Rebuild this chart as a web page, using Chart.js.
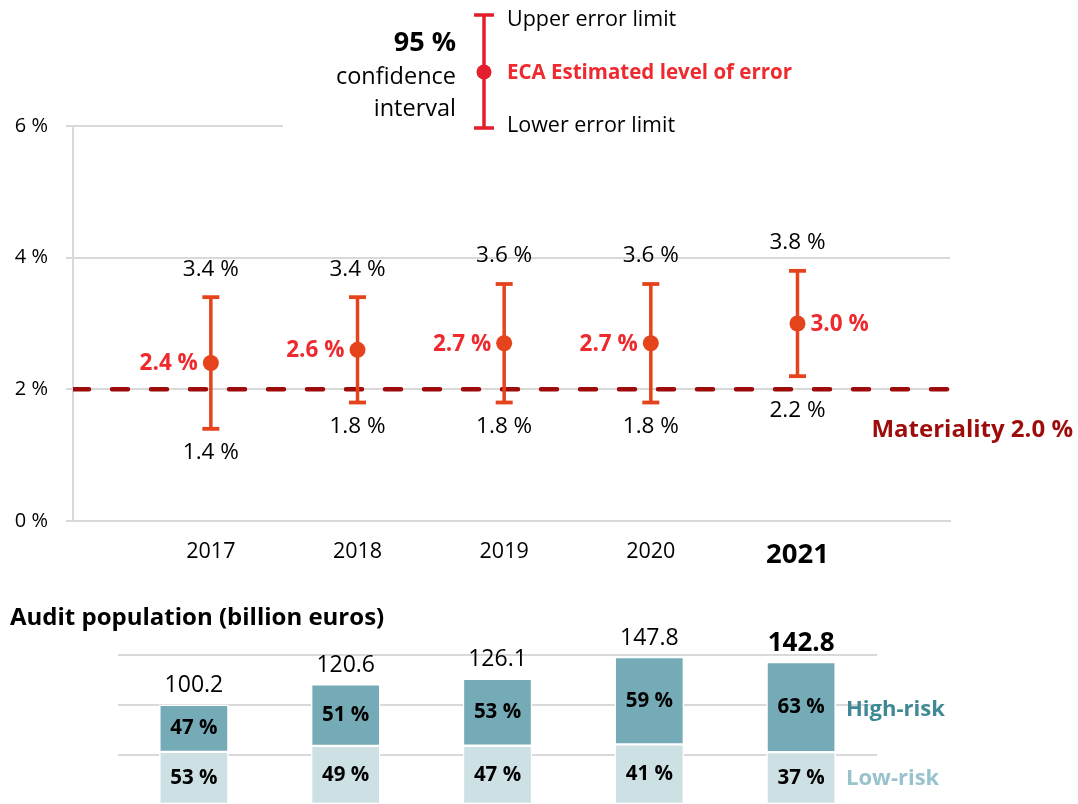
<!DOCTYPE html>
<html>
<head>
<meta charset="utf-8">
<script src="https://cdn.jsdelivr.net/npm/chart.js@4/dist/chart.umd.min.js"></script>
<style>
  html, body { margin: 0; padding: 0; background: #fff; width: 1078px; height: 804px; overflow: hidden; }
  #errorChart { position: absolute; left: 0; top: 0; }
  #popChart { position: absolute; left: 0; top: 590px; }
</style>
</head>
<body>
<canvas id="errorChart" width="1078" height="590"></canvas>
<canvas id="popChart" width="1078" height="220"></canvas>
<script>
// values
const years = [2017, 2018, 2019, 2020, 2021];
const estimated = [2.4, 2.6, 2.7, 2.7, 3.0];
const upperLimit = [3.4, 3.4, 3.6, 3.6, 3.8];
const lowerLimit = [1.4, 1.8, 1.8, 1.8, 2.2];
const materiality = 2.0;
const errorTicks = [0, 2, 4, 6];

const populationTotal = [100.2, 120.6, 126.1, 147.8, 142.8];
const highRiskShare = [47, 51, 53, 59, 63];
const lowRiskShare = [53, 49, 47, 41, 37];
const populationTicks = [0, 50, 100, 150];

const FONT = "'Open Sans', Lato, sans-serif";
const ORANGE = "#e5431c";
const RED = "#ee2a2f";
const DARKRED = "#9e0b0b";
const GRID = "#d9d9d9";

const xMin = 2016.06, xMax = 2022.04;

// whiskers: pairs of points split by a null so the line breaks between years
const whiskers = years.flatMap((yr, i) => [
  { x: yr, y: lowerLimit[i] },
  { x: yr, y: upperLimit[i] },
  { x: yr, y: null }
]);

const errorLabels = {
  id: "errorLabels",
  beforeDatasetsDraw(chart) {
    // the legend box hides the right part of the 6 % gridline
    const c = chart.ctx;
    c.save();
    c.fillStyle = "#fff";
    c.fillRect(283, chart.scales.y.getPixelForValue(6) - 4, 680, 8);
    c.restore();
  },
  afterDraw(chart) {
    const c = chart.ctx;
    const xs = chart.scales.x, ys = chart.scales.y;
    const matY = ys.getPixelForValue(materiality);
    c.save();
    c.textBaseline = "middle";
    years.forEach((yr, i) => {
      const x = xs.getPixelForValue(yr);
      c.fillStyle = "#000";
      c.textAlign = "center";
      c.font = "22.5px " + FONT;
      c.fillText(upperLimit[i].toFixed(1) + " %", x, ys.getPixelForValue(upperLimit[i]) - 28);
      // keep the lower label clear of the materiality line
      const ly = Math.max(ys.getPixelForValue(lowerLimit[i]) + 24, matY + 21);
      c.fillText(lowerLimit[i].toFixed(1) + " %", x, ly);
      c.fillStyle = RED;
      c.font = "bold 22.5px " + FONT;
      const last = i === years.length - 1;
      c.textAlign = last ? "left" : "right";
      c.fillText(estimated[i].toFixed(1) + " %", x + (last ? 13 : -13), ys.getPixelForValue(estimated[i]) + 1);
    });

    // materiality label
    c.fillStyle = DARKRED;
    c.font = "bold 24px " + FONT;
    c.textAlign = "right";
    c.fillText("Materiality " + materiality.toFixed(1) + " %", 1073, matY + 41);

    // legend
    const lx = 484;
    c.strokeStyle = "#e31e2d";
    c.lineWidth = 3.5;
    c.beginPath();
    c.moveTo(lx, 15); c.lineTo(lx, 128);
    c.moveTo(lx - 10, 15); c.lineTo(lx + 10, 15);
    c.moveTo(lx - 10, 128); c.lineTo(lx + 10, 128);
    c.stroke();
    c.fillStyle = "#e31e2d";
    c.beginPath();
    c.arc(lx, 72, 7.5, 0, Math.PI * 2);
    c.fill();

    c.fillStyle = "#000";
    c.textAlign = "right";
    c.font = "bold 27px " + FONT;
    c.fillText("95 %", 456, 43);
    c.font = "23.5px " + FONT;
    c.fillText("confidence", 456, 77);
    c.fillText("interval", 456, 109);

    c.textAlign = "left";
    c.font = "21.5px " + FONT;
    c.fillText("Upper error limit", 507, 20);
    c.fillText("Lower error limit", 507, 126);
    c.fillStyle = RED;
    c.font = "bold 20.5px " + FONT;
    c.fillText("ECA Estimated level of error", 507, 73);
    c.restore();
  }
};

new Chart(document.getElementById("errorChart").getContext("2d"), {
  type: "scatter",
  data: {
    datasets: [
      {
        label: "Materiality",
        type: "line",
        data: [{ x: xMin, y: materiality }, { x: xMax, y: materiality }],
        borderColor: DARKRED,
        borderWidth: 4.5,
        borderDash: [16, 23],
        borderCapStyle: "round",
        pointRadius: 0,
        order: 3
      },
      {
        label: "Error interval",
        type: "line",
        data: whiskers,
        borderColor: ORANGE,
        borderWidth: 3.5,
        spanGaps: false,
        pointStyle: "line",
        pointRadius: 8.5,
        pointBorderWidth: 3.8,
        pointBorderColor: ORANGE,
        pointBackgroundColor: ORANGE,
        order: 2
      },
      {
        label: "Estimated level of error",
        data: years.map((yr, i) => ({ x: yr, y: estimated[i] })),
        pointRadius: 8,
        pointBackgroundColor: ORANGE,
        pointBorderWidth: 0,
        order: 1
      }
    ]
  },
  options: {
    responsive: false,
    animation: false,
    devicePixelRatio: 1,
    layout: { padding: { top: 126, right: 128, left: 0, bottom: 0 } },
    plugins: { legend: { display: false }, tooltip: { enabled: false } },
    scales: {
      x: {
        type: "linear",
        min: xMin,
        max: xMax,
        afterBuildTicks: s => { s.ticks = years.map(v => ({ value: v })); },
        afterFit: s => { s.height = 69; },
        grid: { display: false, drawTicks: false },
        border: { display: true, color: GRID, width: 2 },
        ticks: {
          padding: 18,
          color: "#000",
          callback: v => String(v),
          font: ctx => (ctx.tick && ctx.tick.value === 2021)
            ? { family: FONT, size: 27.5, weight: "bold" }
            : { family: FONT, size: 21.5 }
        }
      },
      y: {
        min: 0,
        max: 6,
        afterBuildTicks: s => { s.ticks = errorTicks.map(v => ({ value: v })); },
        afterFit: s => { s.width = 73; },
        grid: { color: GRID, lineWidth: 2, tickLength: 7 },
        border: { display: true, color: GRID, width: 2 },
        ticks: {
          padding: 18,
          color: "#000",
          font: { family: FONT, size: 20 },
          callback: v => v + " %"
        }
      }
    }
  },
  plugins: [errorLabels]
});

// bottom chart: audit population split into high and low risk
const highRisk = populationTotal.map((t, i) => t * highRiskShare[i] / 100);
const lowRisk = populationTotal.map((t, i) => t * lowRiskShare[i] / 100);

const popLabels = {
  id: "popLabels",
  afterDraw(chart) {
    const c = chart.ctx;
    const lowMeta = chart.getDatasetMeta(0), highMeta = chart.getDatasetMeta(1);
    c.save();
    c.textBaseline = "middle";
    c.textAlign = "center";
    years.forEach((yr, i) => {
      const hi = highMeta.data[i], lo = lowMeta.data[i];
      const last = i === years.length - 1;
      c.fillStyle = "#000";
      c.font = last ? "bold 26px " + FONT : "23px " + FONT;
      c.fillText(populationTotal[i].toFixed(1), hi.x, hi.y - 19);
      c.font = "bold 20.5px " + FONT;
      c.fillText(highRiskShare[i] + " %", hi.x, (hi.y + hi.base) / 2);
      c.fillText(lowRiskShare[i] + " %", lo.x, (lo.y + lo.base) / 2);
    });
    c.textAlign = "left";
    c.font = "bold 22px " + FONT;
    c.fillStyle = "#3f8896";
    c.fillText("High-risk", 846, 120);
    c.fillStyle = "#98c3cc";
    c.fillText("Low-risk", 846, 189);
    c.fillStyle = "#000";
    c.font = "bold 24px " + FONT;
    c.fillText("Audit population (billion euros)", 10, 28);
    c.restore();
  }
};

new Chart(document.getElementById("popChart").getContext("2d"), {
  type: "bar",
  data: {
    labels: years.map(String),
    datasets: [
      {
        label: "Low-risk",
        data: lowRisk,
        backgroundColor: "#cde1e5",
        borderColor: "#fff",
        borderWidth: 1.5,
        borderSkipped: false,
        barThickness: 69
      },
      {
        label: "High-risk",
        data: highRisk,
        backgroundColor: "#74abb6",
        borderColor: "#fff",
        borderWidth: 1.5,
        borderSkipped: false,
        barThickness: 69
      }
    ]
  },
  options: {
    responsive: false,
    animation: false,
    devicePixelRatio: 1,
    layout: { padding: { top: 65, right: 201, left: 118, bottom: 5 } },
    plugins: { legend: { display: false }, tooltip: { enabled: false } },
    scales: {
      x: { stacked: true, display: false },
      y: {
        stacked: true,
        min: 0,
        max: 150,
        afterBuildTicks: s => { s.ticks = populationTicks.map(v => ({ value: v })); },
        afterFit: s => { s.width = 0; },
        grid: { color: GRID, lineWidth: 2, drawTicks: false },
        border: { display: false },
        ticks: { display: false }
      }
    }
  },
  plugins: [popLabels]
});
</script>
</body>
</html>
